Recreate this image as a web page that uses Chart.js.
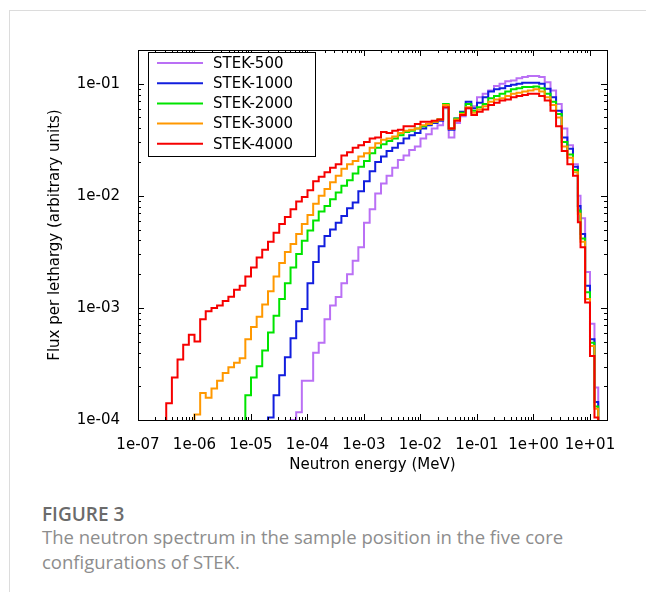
<!DOCTYPE html>
<html>
<head>
<meta charset="utf-8">
<title>Neutron spectrum STEK</title>
<script src="https://cdn.jsdelivr.net/npm/chart.js@4.4.0/dist/chart.umd.min.js"></script>
<style>
  html, body { margin: 0; padding: 0; background: #fff; }
  body { width: 646px; height: 592px; position: relative; overflow: hidden; }
  .frame { position: absolute; left: 9px; top: 10px; width: 800px; height: 800px;
           border-left: 1px solid #dcdcdc; border-top: 1px solid #dcdcdc; }
  #chart-box { position: absolute; left: 0; top: 0; width: 646px; height: 480px; }
  .caption { position: absolute; left: 42px; font-family: "Open Sans", "Noto Sans", sans-serif; }
  .fig-num { top: 501px; font-size: 19px; font-weight: 600; color: #6b6b6b; }
  .fig-text { top: 525px; font-size: 18.5px; line-height: 24.5px; color: #8d8d8d; width: 600px; }
</style>
</head>
<body>
<div class="frame"></div>
<div id="chart-box"><canvas id="spectrum"></canvas></div>
<div class="caption fig-num">FIGURE 3</div>
<div class="caption fig-text">The neutron spectrum in the sample position in the five core<br>configurations of STEK.</div>

<script>
// group boundaries (MeV), lower edge of each bin + last upper edge
const energyEdges = [
  1.00e-7, 1.26e-7, 1.58e-7, 2.00e-7, 2.51e-7, 3.16e-7, 3.98e-7, 5.01e-7, 6.31e-7, 7.94e-7,
  1.00e-6, 1.26e-6, 1.58e-6, 2.00e-6, 2.51e-6, 3.16e-6, 3.98e-6, 5.01e-6, 6.31e-6, 7.94e-6,
  1.00e-5, 1.26e-5, 1.58e-5, 2.00e-5, 2.51e-5, 3.16e-5, 3.98e-5, 5.01e-5, 6.31e-5, 7.94e-5,
  1.00e-4, 1.26e-4, 1.58e-4, 2.00e-4, 2.51e-4, 3.16e-4, 3.98e-4, 5.01e-4, 6.31e-4, 7.94e-4,
  1.00e-3, 1.26e-3, 1.58e-3, 2.00e-3, 2.51e-3, 3.16e-3, 3.98e-3, 5.01e-3, 6.31e-3, 7.94e-3,
  1.00e-2, 1.26e-2, 1.58e-2, 2.00e-2, 2.51e-2, 3.16e-2, 3.98e-2, 5.01e-2, 6.31e-2, 7.94e-2,
  1.00e-1, 1.26e-1, 1.58e-1, 2.00e-1, 2.51e-1, 3.16e-1, 3.98e-1, 5.01e-1, 6.31e-1, 7.94e-1,
  1.00, 1.26, 1.58, 2.00, 2.51, 3.16, 3.98,
  5.0, 6.1, 6.8, 8.2, 10.0, 12.0, 14.0
]

// flux per lethargy in each bin (null = not drawn / below plot)
const stek500 = [
  null, null, null, null, null, null, null, null, null, null,
  null, null, null, null, null, null, null, null, null, null,
  null, null, null, null, null, null, null, 1.00e-4, 1.17e-4, 2.24e-4,
  2.24e-4, 3.98e-4, 4.90e-4, 7.94e-4, 1.05e-3, 1.25e-3, 1.66e-3, 2.00e-3, 2.63e-3, 3.47e-3,
  5.75e-3, 7.59e-3, 1.05e-2, 1.29e-2, 1.51e-2, 1.78e-2, 2.09e-2, 2.29e-2, 2.57e-2, 2.75e-2,
  3.24e-2, 3.55e-2, 3.98e-2, 4.27e-2, 6.03e-2, 3.31e-2, 4.47e-2, 5.13e-2, 6.03e-2, 6.31e-2,
  7.59e-2, 8.13e-2, 8.71e-2, 9.55e-2, 1.00e-1, 1.05e-1, 1.07e-1, 1.12e-1, 1.15e-1, 1.17e-1,
  1.17e-1, 1.15e-1, 1.03e-1, 8.71e-2, 6.61e-2, 3.98e-2, 2.82e-2, 1.91e-2, 1.00e-2, 6.31e-3, 2.09e-3, 7.24e-4, 1.95e-4
]
const stek1000 = [
  null, null, null, null, null, null, null, null, null, null,
  null, null, null, null, null, null, null, null, null, null,
  null, null, null, 1.05e-4, 1.66e-4, 2.51e-4, 3.63e-4, 5.37e-4, 7.59e-4, 9.77e-4,
  1.66e-3, 2.57e-3, 3.55e-3, 4.37e-3, 5.01e-3, 5.75e-3, 6.61e-3, 7.76e-3, 8.71e-3, 1.10e-2,
  1.35e-2, 1.66e-2, 2.00e-2, 2.24e-2, 2.51e-2, 2.69e-2, 2.95e-2, 3.24e-2, 3.47e-2, 3.63e-2,
  3.98e-2, 4.27e-2, 4.47e-2, 4.68e-2, 6.46e-2, 3.89e-2, 4.90e-2, 5.62e-2, 6.92e-2, 6.03e-2,
  6.76e-2, 7.59e-2, 8.51e-2, 8.91e-2, 9.12e-2, 9.55e-2, 9.77e-2, 1.00e-1, 1.02e-1, 1.02e-1,
  1.02e-1, 1.00e-1, 9.02e-2, 7.59e-2, 5.75e-2, 3.31e-2, 2.63e-2, 1.82e-2, 8.13e-3, 4.57e-3, 1.58e-3, 5.25e-4, 1.45e-4
]
const stek2000 = [
  null, null, null, null, null, null, null, null, null, null,
  null, null, null, null, null, null, null, null, null, 1.66e-4,
  2.40e-4, 3.02e-4, 4.17e-4, 6.03e-4, 8.51e-4, 1.20e-3, 1.66e-3, 2.29e-3, 3.02e-3, 3.98e-3,
  4.90e-3, 6.03e-3, 7.24e-3, 8.13e-3, 9.33e-3, 1.07e-2, 1.23e-2, 1.38e-2, 1.58e-2, 1.82e-2,
  2.04e-2, 2.40e-2, 2.69e-2, 2.88e-2, 3.09e-2, 3.24e-2, 3.47e-2, 3.72e-2, 3.80e-2, 3.98e-2,
  4.17e-2, 4.37e-2, 4.57e-2, 4.79e-2, 6.61e-2, 3.98e-2, 4.90e-2, 5.50e-2, 6.61e-2, 5.75e-2,
  6.17e-2, 6.61e-2, 7.41e-2, 7.76e-2, 8.13e-2, 8.51e-2, 8.91e-2, 9.12e-2, 9.33e-2, 9.33e-2,
  9.44e-2, 9.12e-2, 8.13e-2, 6.92e-2, 5.37e-2, 3.02e-2, 2.34e-2, 1.70e-2, 7.41e-3, 4.17e-3, 1.38e-3, 4.90e-4, 1.32e-4
]
const stek3000 = [
  null, null, null, null, null, null, null, null, null, null,
  1.12e-4, 1.74e-4, 1.58e-4, 1.91e-4, 2.24e-4, 2.63e-4, 2.95e-4, 3.24e-4, 3.55e-4, 5.25e-4,
  6.76e-4, 8.32e-4, 1.07e-3, 1.41e-3, 1.91e-3, 2.51e-3, 3.16e-3, 3.72e-3, 4.57e-3, 5.62e-3,
  6.76e-3, 8.51e-3, 1.00e-2, 1.15e-2, 1.32e-2, 1.51e-2, 1.74e-2, 1.91e-2, 2.04e-2, 2.24e-2,
  2.40e-2, 2.69e-2, 2.95e-2, 3.16e-2, 3.24e-2, 3.39e-2, 3.63e-2, 3.80e-2, 3.89e-2, 3.98e-2,
  4.27e-2, 4.37e-2, 4.57e-2, 4.79e-2, 6.46e-2, 3.98e-2, 4.79e-2, 5.37e-2, 6.17e-2, 5.50e-2,
  5.89e-2, 6.31e-2, 6.92e-2, 7.24e-2, 7.41e-2, 7.76e-2, 8.13e-2, 8.32e-2, 8.51e-2, 8.71e-2,
  8.91e-2, 8.51e-2, 7.59e-2, 6.46e-2, 5.01e-2, 2.75e-2, 2.19e-2, 1.62e-2, 6.92e-3, 3.89e-3, 1.20e-3, 4.57e-4, 1.26e-4
]
const stek4000 = [
  null, null, null, null, null, 1.41e-4, 2.40e-4, 3.47e-4, 4.68e-4, 5.75e-4,
  5.01e-4, 7.94e-4, 9.33e-4, 1.00e-3, 1.05e-3, 1.15e-3, 1.26e-3, 1.45e-3, 1.58e-3, 1.91e-3,
  2.29e-3, 2.82e-3, 3.31e-3, 3.89e-3, 4.68e-3, 5.62e-3, 6.46e-3, 7.59e-3, 8.91e-3, 9.77e-3,
  1.12e-2, 1.35e-2, 1.48e-2, 1.62e-2, 1.78e-2, 1.91e-2, 2.29e-2, 2.45e-2, 2.69e-2, 2.82e-2,
  3.02e-2, 3.24e-2, 3.31e-2, 3.72e-2, 3.63e-2, 3.80e-2, 3.89e-2, 4.17e-2, 4.17e-2, 4.37e-2,
  4.57e-2, 4.57e-2, 4.68e-2, 4.79e-2, 6.17e-2, 3.98e-2, 4.68e-2, 5.25e-2, 6.03e-2, 5.25e-2,
  5.62e-2, 5.89e-2, 6.46e-2, 6.76e-2, 7.08e-2, 7.24e-2, 7.59e-2, 7.76e-2, 7.94e-2, 8.13e-2,
  8.13e-2, 7.76e-2, 7.08e-2, 5.75e-2, 4.17e-2, 2.51e-2, 1.91e-2, 1.51e-2, 5.82e-3, 3.47e-3, 1.12e-3, 3.72e-4, 1.05e-4
]

const seriesNames = ['STEK-500', 'STEK-1000', 'STEK-2000', 'STEK-3000', 'STEK-4000']
const seriesValues = [stek500, stek1000, stek2000, stek3000, stek4000]
const seriesColors = ['rgb(186,112,245)', 'rgb(18,30,222)', 'rgb(0,228,0)', 'rgb(255,152,0)', 'rgb(246,0,0)']

const xTickValues = [1e-7, 1e-6, 1e-5, 1e-4, 1e-3, 1e-2, 1e-1, 1e0, 1e1]
const yTickValues = [1e-4, 1e-3, 1e-2, 1e-1]

const X_MIN = 1e-7, X_MAX = 20
const Y_MIN = 1e-4, Y_MAX = 0.2
const FLOOR = 1e-6   // far below the axis, so the histogram starts/ends with a vertical drop

const FONT = '"DejaVu Sans", sans-serif'

function expLabel(v) {
    const e = Math.round(Math.log10(v))
    return '1e' + (e < 0 ? '-' : '+') + String(Math.abs(e)).padStart(2, '0')
}

// histogram as step points (value held from lower edge to next edge)
function stepPoints(values) {
    let first = values.findIndex(v => v !== null)
    let last = values.length - 1
    while (values[last] === null) last--
    const pts = [{x: energyEdges[first], y: FLOOR}]
    for (let i = first; i <= last; i++) {
        pts.push({x: energyEdges[i], y: values[i]})
    }
    pts.push({x: energyEdges[last + 1], y: FLOOR})
    return pts
}

// gnuplot style frame with inward ticks + boxed legend
const frameAndLegend = {
    id: 'frameAndLegend',
    afterDatasetsDraw(chart) {
        const {ctx, chartArea: a, scales} = chart
        const xs = scales.x, ys = scales.y
        ctx.save()
        ctx.strokeStyle = '#000'
        ctx.lineWidth = 1

        ctx.beginPath()
        // x ticks bottom and top
        for (let d = -7; d <= 1; d++) {
            for (let m = 1; m <= 9; m++) {
                const v = m * Math.pow(10, d)
                if (v < X_MIN || v > X_MAX) continue
                const px = Math.round(xs.getPixelForValue(v)) + 0.5
                const len = m === 1 ? 6 : 3
                ctx.moveTo(px, a.bottom); ctx.lineTo(px, a.bottom - len)
                ctx.moveTo(px, a.top); ctx.lineTo(px, a.top + len)
            }
        }
        // y ticks left and right
        for (let d = -4; d <= -1; d++) {
            for (let m = 1; m <= 9; m++) {
                const v = m * Math.pow(10, d)
                if (v < Y_MIN || v > Y_MAX) continue
                const py = Math.round(ys.getPixelForValue(v)) + 0.5
                const len = m === 1 ? 6 : 3
                ctx.moveTo(a.left, py); ctx.lineTo(a.left + len, py)
                ctx.moveTo(a.right, py); ctx.lineTo(a.right - len, py)
            }
        }
        ctx.stroke()

        ctx.strokeRect(Math.round(a.left) + 0.5, Math.round(a.top) + 0.5,
            Math.round(a.right - a.left), Math.round(a.bottom - a.top))

        // legend
        const lx = 148.5, ly = 52.5, lw = 167, lh = 104
        ctx.fillStyle = '#fff'
        ctx.fillRect(lx, ly, lw, lh)
        ctx.strokeRect(lx, ly, lw, lh)
        ctx.font = '15px ' + FONT
        ctx.textBaseline = 'middle'
        ctx.textAlign = 'left'
        seriesNames.forEach((name, i) => {
            const y = 63 + i * 20.2
            ctx.strokeStyle = seriesColors[i]
            ctx.lineWidth = 2
            ctx.beginPath()
            ctx.moveTo(157, y); ctx.lineTo(203, y)
            ctx.stroke()
            ctx.fillStyle = '#000'
            ctx.fillText(name, 213, y + 1)
        })
        ctx.restore()
    }
}

const datasets = seriesNames.map((name, i) => ({
    label: name,
    data: stepPoints(seriesValues[i]),
    borderColor: seriesColors[i],
    backgroundColor: seriesColors[i],
    borderWidth: 2,
    stepped: 'before',
    pointRadius: 0,
    fill: false,
    order: seriesNames.length - i   // STEK-4000 drawn on top
}))

new Chart(document.getElementById('spectrum'), {
    type: 'line',
    data: {datasets: datasets},
    options: {
        responsive: true,
        maintainAspectRatio: false,
        animation: false,
        parsing: false,
        layout: {padding: {left: 0, top: 50, right: 39, bottom: 0}},
        plugins: {legend: {display: false}, tooltip: {enabled: false}},
        scales: {
            x: {
                type: 'logarithmic',
                position: 'bottom',
                min: X_MIN,
                max: X_MAX,
                grid: {display: false},
                border: {display: false},
                afterBuildTicks: s => { s.ticks = xTickValues.map(v => ({value: v, major: true})) },
                afterFit: s => { s.height = 60 },
                ticks: {
                    autoSkip: false, maxRotation: 0, padding: 8, color: '#000',
                    font: {family: FONT, size: 15},
                    callback: v => expLabel(v)
                },
                title: {
                    display: true, text: 'Neutron energy (MeV)', color: '#000',
                    font: {family: FONT, size: 15}, padding: {top: 0, bottom: 6}
                }
            },
            y: {
                type: 'logarithmic',
                position: 'left',
                min: Y_MIN,
                max: Y_MAX,
                grid: {display: false},
                border: {display: false},
                afterBuildTicks: s => { s.ticks = yTickValues.map(v => ({value: v, major: true})) },
                afterFit: s => { s.width = 138 },
                ticks: {
                    autoSkip: false, padding: 10, color: '#000',
                    font: {family: FONT, size: 15},
                    callback: v => expLabel(v)
                },
                title: {
                    display: true, text: 'Flux per lethargy (arbitrary units)', color: '#000',
                    font: {family: FONT, size: 15}, padding: {top: 46, bottom: 0}
                }
            }
        }
    },
    plugins: [frameAndLegend]
})
</script>
</body>
</html>
